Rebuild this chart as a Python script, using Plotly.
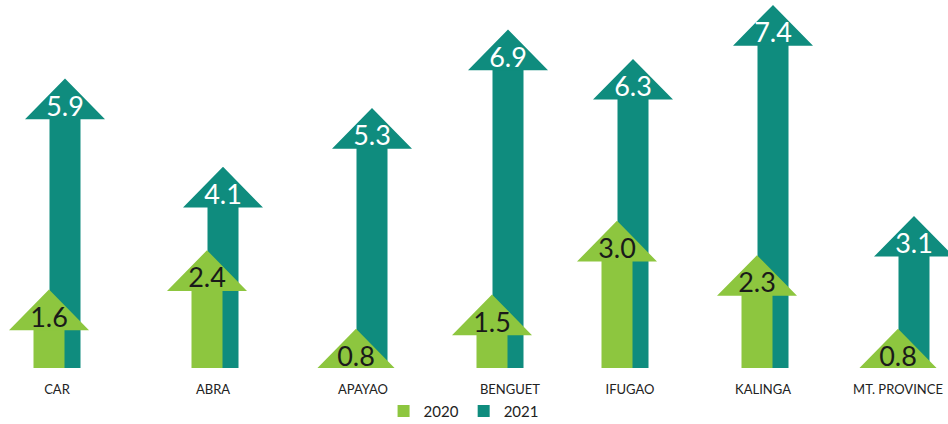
import plotly.graph_objects as go

# ---- data ----
categories = ["CAR", "ABRA", "APAYAO", "BENGUET", "IFUGAO", "KALINGA", "MT. PROVINCE"]
values_2020 = [1.6, 2.4, 0.8, 1.5, 3.0, 2.3, 0.8]
values_2021 = [5.9, 4.1, 5.3, 6.9, 6.3, 7.4, 3.1]
series_names = ["2020", "2021"]

# ---- layout / style ----
group_pos = [57, 215, 364, 500, 625, 765, 906]   # category centres on the x axis
label_pos = [57, 213, 363, 510, 630, 763, 898]   # category label centres
offset = 8          # half distance between the two arrows of a group
shaft_w = 31        # shaft width (x units)
head_half = 40      # half width of arrow head (x units)
head_h = 0.83       # arrow head height (y units)
text_drop = 0.62    # value label position below the tip

GREEN = "#8DC63F"
TEAL = "#0F8C7E"
FONT = "Lato"

fig = go.Figure()


def add_series(vals, xs, color, name, rank):
    shaft = [max(v - head_h * 0.95, 0) for v in vals]
    fig.add_trace(go.Bar(
        x=xs, y=shaft, width=shaft_w, marker=dict(color=color, line=dict(width=0)),
        name=name, legendrank=rank, hoverinfo="skip"))
    hx, hy = [], []
    for x, v in zip(xs, vals):
        base = v - head_h
        hx += [x - head_half, x, x + head_half, x - head_half, None]
        hy += [base, v, base, base, None]
    fig.add_trace(go.Scatter(
        x=hx, y=hy, mode="lines", fill="toself", fillcolor=color,
        line=dict(width=0, color=color), showlegend=False, hoverinfo="skip"))


green_x = [p - offset for p in group_pos]
teal_x = [p + offset for p in group_pos]

add_series(values_2021, teal_x, TEAL, series_names[1], 2)
add_series(values_2020, green_x, GREEN, series_names[0], 1)

fig.add_trace(go.Scatter(
    x=teal_x, y=[v - text_drop for v in values_2021], mode="text",
    text=[f"{v:.1f}" for v in values_2021], textposition="middle center",
    textfont=dict(family=FONT, size=27, color="white"),
    showlegend=False, hoverinfo="skip"))
fig.add_trace(go.Scatter(
    x=green_x, y=[v - text_drop for v in values_2020], mode="text",
    text=[f"{v:.1f}" for v in values_2020], textposition="middle center",
    textfont=dict(family=FONT, size=27, color="#1a1a1a"),
    showlegend=False, hoverinfo="skip"))

fig.update_layout(
    width=948, height=424,
    margin=dict(l=0, r=0, t=0, b=56, autoexpand=False),
    paper_bgcolor="white", plot_bgcolor="white",
    barmode="overlay",
    showlegend=True,
    legend=dict(orientation="h", x=0.489, xanchor="center",
                yref="container", y=0.03, yanchor="middle",
                font=dict(family=FONT, size=15, color="#222"), itemwidth=30,
                traceorder="normal"),
    xaxis=dict(range=[0, 948], tickvals=label_pos, ticktext=categories,
               showgrid=False, zeroline=False, showline=False, ticks="",
               ticklabelstandoff=12, ticklabeloverflow="allow", automargin=False,
               tickfont=dict(family=FONT, size=13, color="#222"), fixedrange=True),
    yaxis=dict(range=[0, 7.5], showgrid=False, zeroline=False, showline=False,
               showticklabels=False, fixedrange=True, automargin=False),
)

fig.write_html("out.html")
